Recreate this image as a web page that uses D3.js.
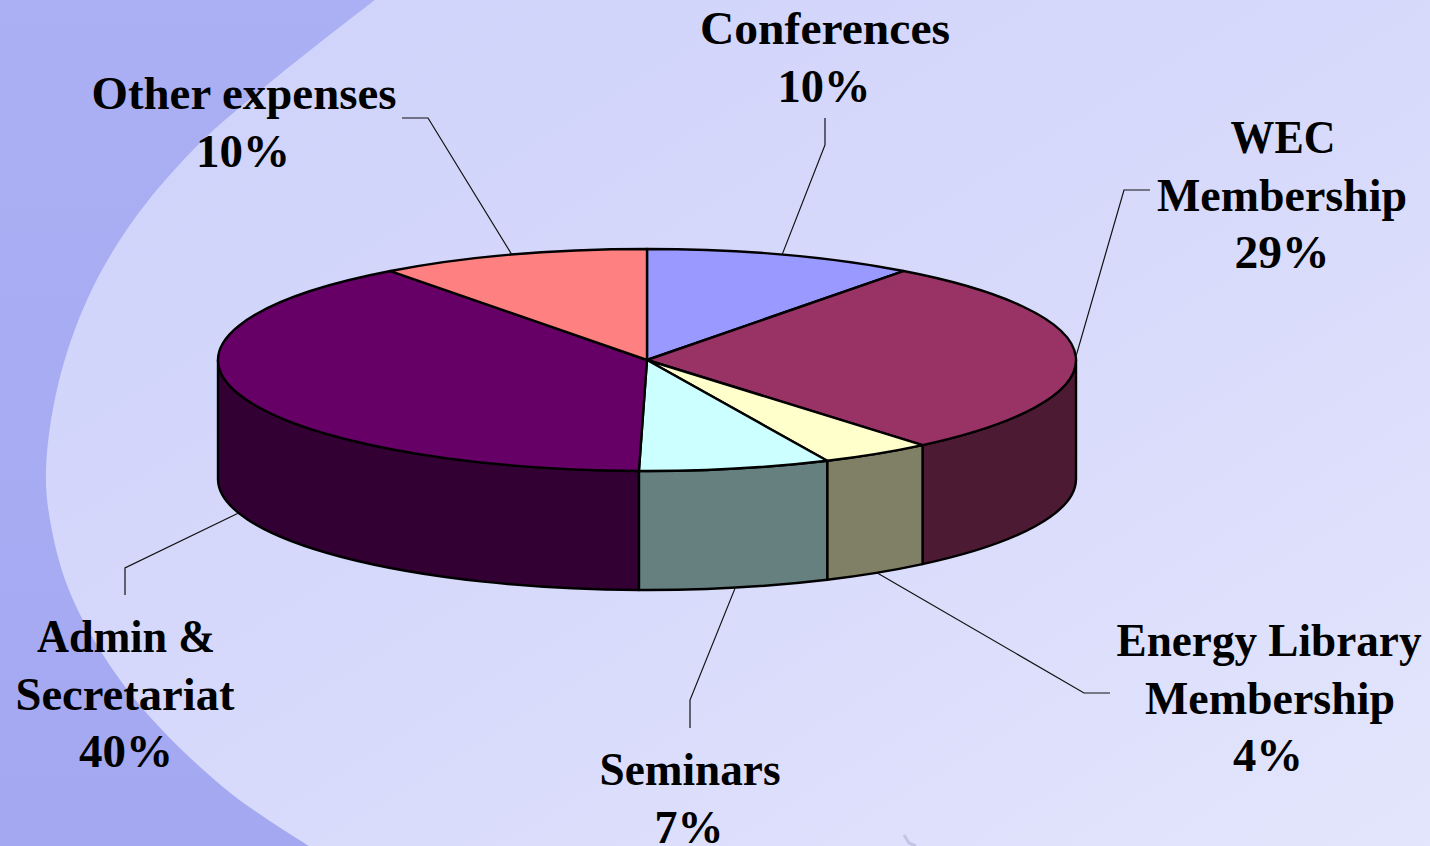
<!DOCTYPE html>
<html>
<head>
<meta charset="utf-8">
<script src="https://cdn.jsdelivr.net/npm/d3@7"></script>
<style>
  html, body { margin: 0; padding: 0; background: #d8dbfc; overflow: hidden; }
  svg { display: block; }
  text { font-family: "Liberation Serif", serif; font-weight: bold; font-size: 47px; fill: #000; text-anchor: middle; }
</style>
</head>
<body>
<div id="pie"></div>
<script>
// values read from the slice edges, labels show them rounded
let categories = ['Conferences', 'WEC Membership', 'Energy Library Membership', 'Seminars', 'Admin & Secretariat', 'Other expenses']
let values = [10.2, 28.7, 4.2, 7.2, 39.5, 10.2]
let colors = ['#9999ff', '#993366', '#ffffcc', '#ccffff', '#660066', '#ff8080']

// label lines, leader elbows and text positions
let labelLines = [['Conferences'], ['WEC', 'Membership'], ['Energy Library', 'Membership'], ['Seminars'], ['Admin &', 'Secretariat'], ['Other expenses']]
let labelX = [[825, 824], [1283, 1282, 1282], [1269, 1270, 1268], [690, 689], [126, 125, 126], [244, 243]]
let labelW = [[250, 93], [105, 250, 95], [305, 250, 70], [181, 69], [178, 219, 94], [305, 94]]
let labelY = [44, 153, 656, 785, 652, 109]
let leaderMid = [[825, 145], [1124, 190], [1084, 693], [690, 700], [125, 568], [428, 118]]
let leaderEnd = [[825, 118], [1150, 190], [1110, 693], [690, 728], [125, 595], [402, 118]]

// outline of the pale swoosh behind the chart
let swooshEdge = [[385, -8], [267, 85], [193, 150], [130, 225], [87, 300], [58, 385], [46, 470], [50, 520], [67, 585], [100, 650], [150, 717], [233, 795], [325, 856]]

let width = 1430
let height = 846
let cx = 647
let cy = 360
let rx = 429
let ry = 111
let depth = 119
let lineHeight = 57.5

let svg = d3.select('#pie')
  .append('svg')
  .attr('width', width)
  .attr('height', height)

let defs = svg.append('defs')
let paleGrad = defs.append('linearGradient')
  .attr('id', 'pale')
  .attr('x1', 0).attr('y1', 0).attr('x2', 1).attr('y2', 1)
paleGrad.append('stop').attr('offset', '0%').attr('stop-color', '#ced2fa')
paleGrad.append('stop').attr('offset', '55%').attr('stop-color', '#d8dafb')
paleGrad.append('stop').attr('offset', '100%').attr('stop-color', '#e3e6fc')
let darkGrad = defs.append('linearGradient')
  .attr('id', 'dark')
  .attr('x1', 0).attr('y1', 0).attr('x2', 0).attr('y2', 1)
darkGrad.append('stop').attr('offset', '0%').attr('stop-color', '#abb0f4')
darkGrad.append('stop').attr('offset', '100%').attr('stop-color', '#a3a8f1')

svg.append('rect').attr('width', width).attr('height', height).attr('fill', 'url(#dark)')
let swoosh = d3.line().curve(d3.curveCatmullRom)(swooshEdge)
svg.append('path')
  .attr('d', swoosh + 'L1440,856L1440,-8Z')
  .attr('fill', 'url(#pale)')
svg.append('path')
  .attr('d', d3.line()([[904, 835], [909, 843], [916, 846]]))
  .attr('fill', 'none')
  .attr('stroke', '#c3c5e6')
  .attr('stroke-width', 3)

// angle 0 is twelve o'clock, going clockwise, same as d3.pie
let pie = d3.pie().sort(null).value(d => d)
let slices = pie(values)
let ex = a => cx + rx * Math.sin(a)
let ey = a => cy - ry * Math.cos(a)

let arc = d3.arc().innerRadius(0).outerRadius(rx)

function darken(c) {
  let k = d3.rgb(c)
  return d3.rgb(k.r / 2, k.g / 2, k.b / 2 ).formatHex()
}

// front wall, only the part of each slice that faces the viewer
let walls = svg.append('g')
slices.forEach((s, i) => {
  let a0 = Math.max(s.startAngle, Math.PI / 2)
  let a1 = Math.min(s.endAngle, Math.PI * 1.5)
  if (a1 <= a0) return
  let d = 'M' + ex(a0) + ',' + ey(a0)
    + 'A' + rx + ',' + ry + ' 0 0 1 ' + ex(a1) + ',' + ey(a1)
    + 'L' + ex(a1) + ',' + (ey(a1) + depth)
    + 'A' + rx + ',' + ry + ' 0 0 0 ' + ex(a0) + ',' + (ey(a0) + depth)
    + 'Z'
  walls.append('path')
    .attr('d', d)
    .attr('fill', darken(colors[i]))
    .attr('stroke', '#000')
    .attr('stroke-width', 2.4)
    .attr('stroke-linejoin', 'round')
})

svg.append('g')
  .attr('transform', 'translate(' + cx + ',' + cy + ') scale(1,' + (ry / rx) + ')')
  .selectAll('path')
  .data(slices)
  .enter()
  .append('path')
  .attr('d', arc)
  .attr('fill', (d, i) => colors[i])
  .attr('stroke', '#000')
  .attr('stroke-width', 2.4)
  .attr('stroke-linejoin', 'round')
  .attr('vector-effect', 'non-scaling-stroke')

// leaders start at the middle of the slice, on the wall when it faces front
svg.append('g')
  .selectAll('path')
  .data(slices)
  .enter()
  .append('path')
  .attr('d', (d, i) => {
    let mid = (d.startAngle + d.endAngle) / 2
    let front = Math.cos(mid) < 0
    let start = [ex(mid), ey(mid) + (front ? depth : 0)]
    return d3.line()([start, leaderMid[i], leaderEnd[i]])
  })
  .attr('fill', 'none')
  .attr('stroke', '#111')
  .attr('stroke-width', 1.2)

let fmt = d3.format('.0f')
let labels = svg.append('g')
categories.forEach((c, i) => {
  let lines = labelLines[i].concat(fmt(values[i]) + '%')
  labels.selectAll(null)
    .data(lines)
    .enter()
    .append('text')
    .attr('x', (l, j) => labelX[i][j])
    .attr('y', (l, j) => labelY[i] + j * lineHeight)
    .attr('textLength', (l, j) => labelW[i][j])
    .attr('lengthAdjust', 'spacingAndGlyphs')
    .text(l => l)
})
</script>
</body>
</html>
